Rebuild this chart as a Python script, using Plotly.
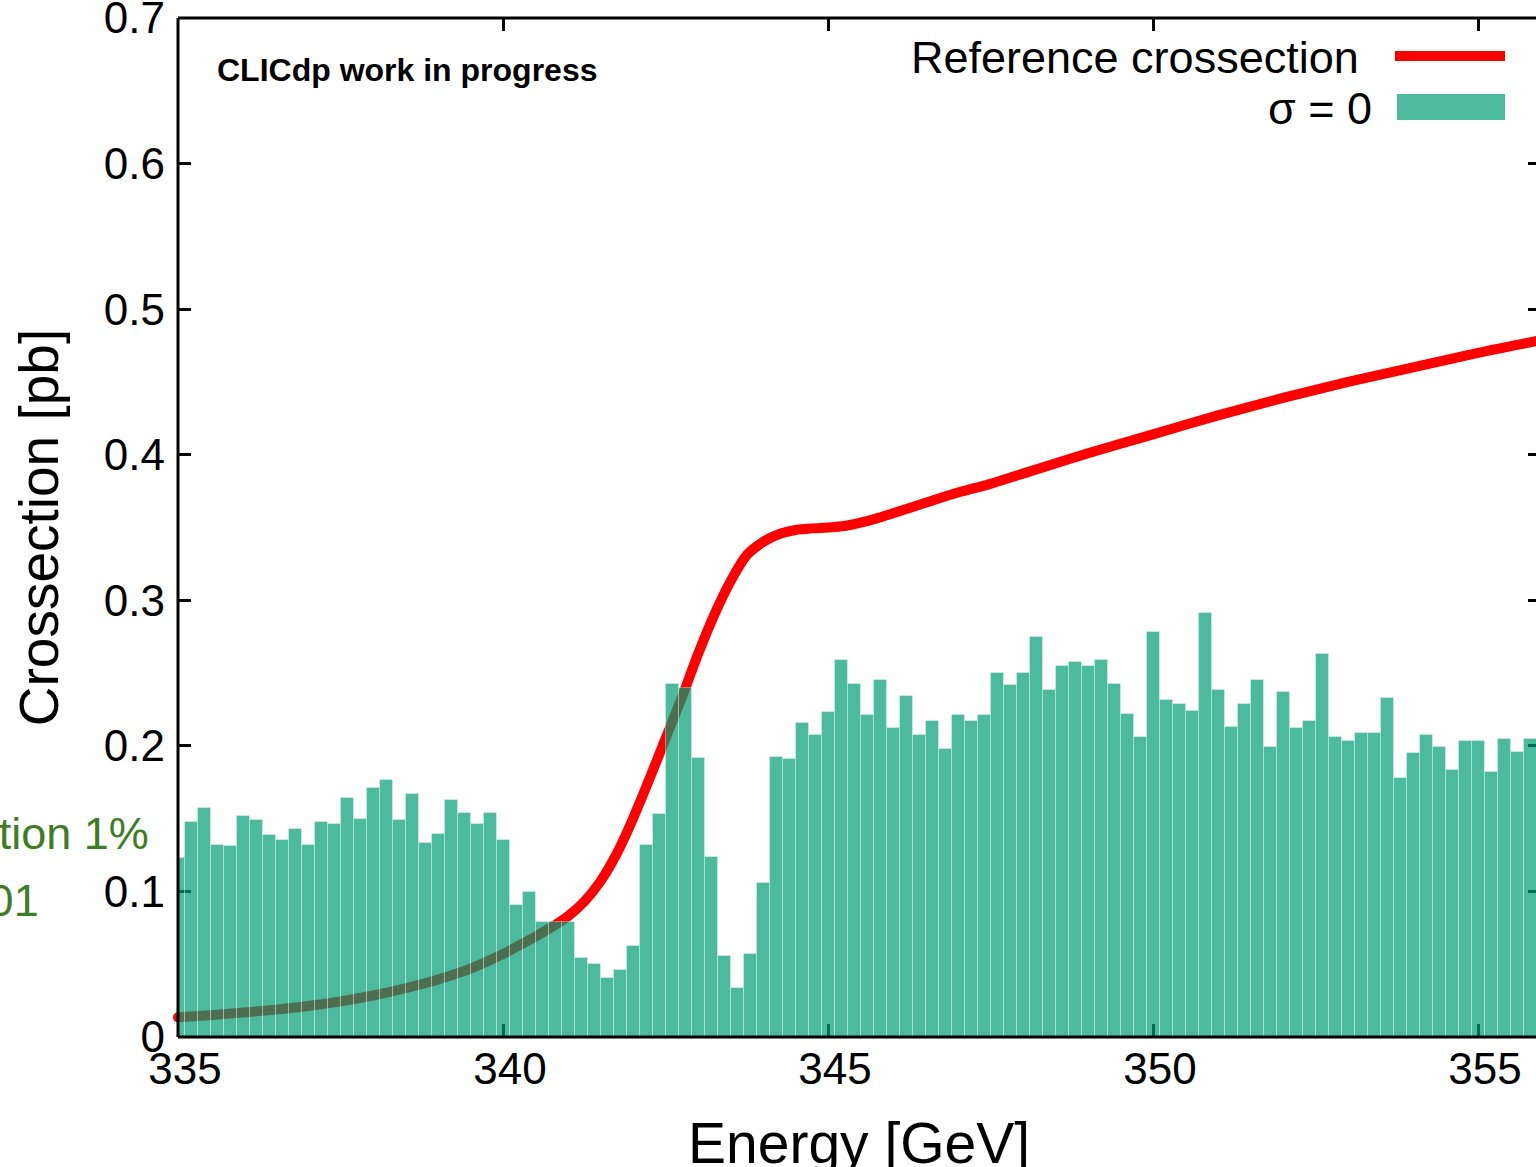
import plotly.graph_objects as go

# ---------------- data ----------------
energy_curve = [335.0, 335.5, 336.0, 336.5, 337.0, 337.5, 338.0, 338.5, 339.0, 339.5,
                340.0, 340.25, 340.5, 340.75, 341.0, 341.25, 341.5, 341.75, 342.0, 342.25,
                342.5, 342.75, 343.0, 343.25, 343.5, 343.75, 344.0, 344.25, 344.5, 344.75,
                345.0, 345.25, 345.5, 345.75, 346.0, 346.5, 347.0, 347.5, 348.0, 349.0,
                350.0, 351.0, 352.0, 353.0, 354.0, 355.0, 356.0]
xsec_curve = [0.0135, 0.0150, 0.0168, 0.0188, 0.0213, 0.0245, 0.0285, 0.0335, 0.0395, 0.0470,
              0.0570, 0.0630, 0.0690, 0.0755, 0.0830, 0.0930, 0.1070, 0.1260, 0.1500, 0.1770,
              0.2050, 0.2330, 0.2630, 0.2900, 0.3130, 0.3310, 0.3400, 0.3455, 0.3483, 0.3494,
              0.3500, 0.3510, 0.3533, 0.3563, 0.3598, 0.3670, 0.3740, 0.3800, 0.3870, 0.4010,
              0.4140, 0.4270, 0.4390, 0.4500, 0.4600, 0.4700, 0.4790]

bin_start = 335.0
bin_width = 0.2
hist_values = [0.1227, 0.148, 0.157, 0.132, 0.131, 0.152, 0.149, 0.139, 0.135, 0.143,
               0.132, 0.1475, 0.146, 0.164, 0.150, 0.171, 0.1765, 0.149, 0.167, 0.1335,
               0.1395, 0.163, 0.154, 0.146, 0.154, 0.135, 0.0907, 0.0998, 0.079, 0.079,
               0.079, 0.0545, 0.050, 0.0403, 0.046, 0.0627, 0.132, 0.153, 0.2425, 0.2395,
               0.192, 0.1239, 0.0557, 0.0334, 0.057, 0.1056, 0.1926, 0.1907, 0.216, 0.2075,
               0.223, 0.259, 0.2425, 0.221, 0.245, 0.212, 0.234, 0.2075, 0.217, 0.1976,
               0.221, 0.217, 0.221, 0.2498, 0.242, 0.2498, 0.2746, 0.2384, 0.2549, 0.2578,
               0.2549, 0.259, 0.2425, 0.2217, 0.2063, 0.2784, 0.2315, 0.2285, 0.2242, 0.291,
               0.2384, 0.2132, 0.2285, 0.2452, 0.1994, 0.2368, 0.212, 0.2173, 0.263, 0.2063,
               0.2033, 0.2086, 0.2086, 0.2327, 0.1781, 0.1949, 0.2072, 0.1994, 0.1834, 0.2033,
               0.2033, 0.1818, 0.2047, 0.196, 0.2047, 0.204]
bin_centers = [round(bin_start + bin_width * i, 1) for i in range(len(hist_values))]

x_ticks = [335, 340, 345, 350, 355]
y_ticks = [0, 0.1, 0.2, 0.3, 0.4, 0.5, 0.6, 0.7]
y_tick_labels = ["0", "0.1", "0.2", "0.3", "0.4", "0.5", "0.6", "0.7"]

x_range = [335.0, 355.892]
y_range = [0.0, 0.7]

x_title = "Energy [GeV]"
y_title = "Crossection [pb]"

# ---------------- layout constants ----------------
W, H = 1536, 1167
ML, MR, MT, MB = 178, 0, 18, 130
PW, PH = W - ML - MR, H - MT - MB
FONT = "Liberation Sans, Arial, sans-serif"


def px(xp):
    return (xp - ML) / PW


def py(yp):
    return (H - MB - yp) / PH


fig = go.Figure()

# reference cross-section (drawn on the base subplot -> below the bars)
fig.add_trace(go.Scatter(
    x=energy_curve, y=xsec_curve, mode="lines", name="Reference crossection",
    line=dict(color="#ff0000", width=10, shape="spline", smoothing=0.8),
    xaxis="x", yaxis="y", showlegend=False))
fig.add_trace(go.Scatter(
    x=energy_curve[:1], y=xsec_curve[:1], mode="markers", cliponaxis=False,
    marker=dict(color="#ff0000", size=10), hoverinfo="skip", showlegend=False,
    xaxis="x", yaxis="y"))

# histogram (overlay subplot -> above the line)
fig.add_trace(go.Bar(
    x=bin_centers, y=hist_values, width=bin_width, name="σ = 0",
    marker=dict(color="rgba(0,158,115,0.7)",
                line=dict(color="rgba(255,255,255,0.35)", width=1)),
    xaxis="x2", yaxis="y2", showlegend=False))

tickfont = dict(family=FONT, size=44, color="#000000")

fig.update_layout(
    width=W, height=H,
    margin=dict(l=ML, r=MR, t=MT, b=MB, pad=0, autoexpand=False),
    paper_bgcolor="white", plot_bgcolor="white",
    bargap=0, showlegend=False,
    font=dict(family=FONT, color="#000000"),
    xaxis=dict(range=x_range, tickvals=x_ticks, ticktext=[str(t) for t in x_ticks],
               ticks="inside", ticklen=13, tickwidth=3, tickcolor="#000000",
               showline=False, showgrid=False, zeroline=False, automargin=False,
               tickfont=tickfont, layer="below traces", ticklabelshift=7,
               ticklabelstandoff=2, ticklabeloverflow="allow"),
    yaxis=dict(range=y_range, tickvals=y_ticks, ticktext=y_tick_labels,
               ticks="inside", ticklen=13, tickwidth=3, tickcolor="#000000",
               showline=False, showgrid=False, zeroline=False, automargin=False,
               tickfont=tickfont, layer="below traces",
               ticklabelstandoff=12, ticklabeloverflow="allow",
               title=dict(text=y_title, font=dict(family=FONT, size=55), standoff=27)),
    xaxis2=dict(range=x_range, overlaying="x", side="top", anchor="y2",
                tickvals=x_ticks, ticks="inside", ticklen=13, tickwidth=3, automargin=False,
                tickcolor="#000000", showticklabels=False, showline=False,
                showgrid=False, zeroline=False, layer="below traces"),
    yaxis2=dict(range=y_range, overlaying="y", side="right", anchor="x2",
                tickvals=y_ticks, ticks="inside", ticklen=8, tickwidth=3, automargin=False,
                tickcolor="#000000", showticklabels=False, showline=False,
                showgrid=False, zeroline=False, layer="below traces"),
)

# x-axis title (placed as annotation so it can sit partly below the page edge, as in the reference)
fig.add_annotation(text=x_title, xref="paper", yref="paper",
                   x=0.5, xshift=2, y=py(1143), xanchor="center", yanchor="middle",
                   showarrow=False, font=dict(family=FONT, size=57, color="#000000"))

# frame (left, bottom, top) drawn above everything
frame = dict(color="#000000", width=3)
fig.add_shape(type="line", xref="paper", yref="paper", x0=0, x1=0, y0=0, y1=1, line=frame, layer="above")
fig.add_shape(type="line", xref="paper", yref="paper", x0=0, x1=1.01, y0=0, y1=0, line=frame, layer="above")
fig.add_shape(type="line", xref="paper", yref="paper", x0=0, x1=1.01, y0=1, y1=1, line=frame, layer="above")

# manual legend (text right-aligned, sample on the right)
fig.add_shape(type="line", xref="paper", yref="paper",
              x0=px(1395), x1=px(1505), y0=py(56), y1=py(56),
              line=dict(color="#ff0000", width=10), layer="above")
fig.add_shape(type="rect", xref="paper", yref="paper",
              x0=px(1397), x1=px(1505), y0=py(120), y1=py(94),
              fillcolor="rgba(0,158,115,0.7)", line=dict(width=0), layer="above")
fig.add_annotation(text="Reference crossection", xref="paper", yref="paper",
                   x=px(1361), y=py(58), xanchor="right", yanchor="middle",
                   showarrow=False, font=dict(family=FONT, size=45, color="#000000"))
fig.add_annotation(text="σ = 0", xref="paper", yref="paper",
                   x=px(1374), y=py(108), xanchor="right", yanchor="middle",
                   showarrow=False, font=dict(family=FONT, size=45, color="#000000"))

fig.add_annotation(text="<b>CLICdp work in progress</b>", xref="paper", yref="paper",
                   x=px(215), y=py(70), xanchor="left", yanchor="middle",
                   showarrow=False, font=dict(family=FONT, size=32, color="#000000"))

# partially visible green side notes
green = "rgb(62,125,38)"
fig.add_annotation(text="Energy resolution 1%", xref="paper", yref="paper",
                   x=px(151), y=py(833), xanchor="right", yanchor="middle",
                   showarrow=False, font=dict(family=FONT, size=45, color=green))
fig.add_annotation(text="σ = 0.001", xref="paper", yref="paper",
                   x=px(41), y=py(900), xanchor="right", yanchor="middle",
                   showarrow=False, font=dict(family=FONT, size=45, color=green))

fig.write_html("out.html")
